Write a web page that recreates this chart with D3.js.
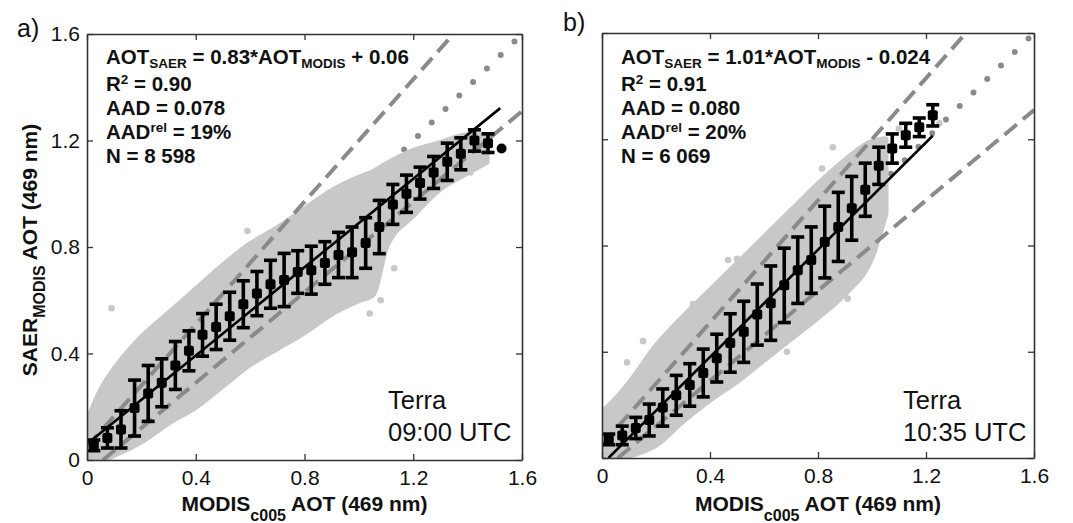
<!DOCTYPE html>
<html><head><meta charset="utf-8">
<script src="https://cdn.jsdelivr.net/npm/d3@7"></script>
<style>
body{margin:0;background:#fff}
text{font-family:"Liberation Sans",Arial,Helvetica,sans-serif}
</style>
</head><body>
<svg id="c" width="1073" height="523"></svg>
<script>
// ---------- data ----------
const tickValues = [0, 0.4, 0.8, 1.2, 1.6];
const tickLabels = ["0", "0.4", "0.8", "1.2", "1.6"];

// Panel a (Terra 09:00 UTC)
const binXA = [0.025,0.075,0.125,0.175,0.225,0.275,0.325,0.375,0.425,0.475,0.525,0.575,0.625,0.675,0.725,0.775,0.825,0.875,0.925,0.975,1.025,1.075,1.125,1.175,1.225,1.275,1.325,1.375,1.425,1.475,1.525];
const meanA = [0.055,0.083,0.115,0.195,0.25,0.29,0.355,0.41,0.47,0.50,0.54,0.585,0.625,0.66,0.676,0.706,0.713,0.74,0.77,0.78,0.815,0.875,0.96,1.0,1.04,1.08,1.12,1.15,1.2,1.19,1.17];
const sdA   = [0.02,0.038,0.07,0.105,0.105,0.09,0.09,0.075,0.08,0.085,0.09,0.088,0.083,0.09,0.1,0.08,0.09,0.08,0.085,0.095,0.095,0.1,0.075,0.07,0.06,0.06,0.07,0.06,0.04,0.035,0];
const cloudXA  = [0.0, 0.05, 0.1, 0.2, 0.3, 0.4, 0.5, 0.6, 0.7, 0.8, 0.9, 1.0, 1.05, 1.1, 1.2, 1.3, 1.4, 1.47];
const cloudHiA = [0.14,0.26,0.34,0.46,0.55,0.64,0.73,0.81,0.87,0.94,1.01,1.06,1.08,1.11,1.16,1.19,1.22,1.22];
const cloudLoA = [0.0, 0.0, 0.02,0.07,0.14,0.2, 0.28,0.36,0.42,0.48,0.55,0.6, 0.62,0.8, 0.92,1.02,1.08,1.12];
const outXA = [0.09,0.59,1.04,1.08,1.41,0.03,1.13];
const outYA = [0.57,0.86,0.55,0.60,1.08,0.19,0.72];
const fitA = [0.83, 0.06];          // slope, intercept
const fitRangeA = [0.0, 1.52];
const statsA = ["0.83*AOT", "+ 0.06", "0.90", "0.078", "19%", "8 598"];

// Panel b (Terra 10:35 UTC)
const binXB = [0.025,0.075,0.125,0.175,0.225,0.275,0.325,0.375,0.425,0.475,0.525,0.575,0.625,0.675,0.725,0.775,0.825,0.875,0.925,0.975,1.025,1.075,1.125,1.175,1.225];
const meanB = [0.07,0.085,0.113,0.143,0.19,0.236,0.275,0.32,0.376,0.433,0.475,0.54,0.583,0.65,0.707,0.745,0.813,0.87,0.94,1.01,1.1,1.165,1.215,1.245,1.29];
const sdB   = [0.02,0.035,0.04,0.06,0.07,0.075,0.08,0.09,0.09,0.11,0.115,0.115,0.14,0.14,0.125,0.125,0.135,0.13,0.12,0.1,0.07,0.055,0.045,0.035,0.04];
const cloudXB  = [0.0, 0.05, 0.1, 0.2, 0.3, 0.4, 0.5, 0.6, 0.7, 0.8, 0.9, 1.0, 1.05];
const cloudHiB = [0.17,0.22,0.28,0.42,0.53,0.63,0.73,0.83,0.93,1.03,1.12,1.19,1.2];
const cloudLoB = [0.02,0.0, 0.01,0.05,0.14,0.22,0.29,0.37,0.45,0.53,0.62,0.76,0.92];
const outXB = [0.093,0.152,0.337,0.40,0.467,0.50,0.685,0.91,0.937,0.855,0.815,1.10,1.25];
const outYB = [0.36,0.44,0.58,0.61,0.745,0.75,0.40,0.60,0.67,1.17,1.09,1.24,1.26];
const fitB = [1.01, -0.024];
const fitRangeB = [0.024, 1.225];
const statsB = ["1.01*AOT", "- 0.024", "0.91", "0.080", "20%", "6 069"];

const envelope = [[1.15, 0.05], [0.85, -0.05]]; // expected error lines

// ---------- drawing ----------
const svg = d3.select("#c");
const GREY_CLOUD = "#c8c8c8";
const GREY_LINE = "#8a8a8a";

function panel(opt) {
  const x = d3.scaleLinear().domain([0, 1.6]).range(opt.xr);
  const y = d3.scaleLinear().domain([0, 1.6]).range(opt.yr);
  const g = svg.append("g");
  const clipId = "clip" + opt.id;
  svg.append("clipPath").attr("id", clipId).append("rect")
    .attr("x", opt.xr[0]).attr("y", opt.yr[1])
    .attr("width", opt.xr[1] - opt.xr[0]).attr("height", opt.yr[0] - opt.yr[1]);
  const p = g.append("g").attr("clip-path", `url(#${clipId})`);

  // 1:1 dotted line (under the cloud)
  p.append("line")
    .attr("x1", x(0)).attr("y1", y(0)).attr("x2", x(1.6)).attr("y2", y(1.6))
    .attr("stroke", GREY_LINE).attr("stroke-width", 6)
    .attr("stroke-linecap", "round").attr("stroke-dasharray", "0,19.3");

  // scatter cloud envelope
  const cloud = opt.cloudX.map((v, i) => ({x: v, lo: opt.cloudLo[i], hi: opt.cloudHi[i]}));
  const area = d3.area().x(d => x(d.x)).y0(d => y(d.lo)).y1(d => y(d.hi)).curve(d3.curveMonotoneX);
  p.append("path").attr("d", area(cloud))
    .attr("fill", GREY_CLOUD).attr("stroke", GREY_CLOUD)
    .attr("stroke-width", 6).attr("stroke-linejoin", "round");
  p.selectAll("circle.out").data(opt.outX.map((v, i) => [v, opt.outY[i]])).join("circle")
    .attr("cx", d => x(d[0])).attr("cy", d => y(d[1])).attr("r", 3.3).attr("fill", GREY_CLOUD);

  // expected error envelope (dashed)
  envelope.forEach(([m, c]) => {
    const x0 = Math.max(0, -c / m);
    p.append("line")
      .attr("x1", x(x0)).attr("y1", y(m * x0 + c)).attr("x2", x(1.6)).attr("y2", y(m * 1.6 + c))
      .attr("stroke", GREY_LINE).attr("stroke-width", 4).attr("stroke-dasharray", "16,8");
  });

  // regression line
  p.append("line")
    .attr("x1", x(opt.fitRange[0])).attr("y1", y(opt.fit[0] * opt.fitRange[0] + opt.fit[1]))
    .attr("x2", x(opt.fitRange[1])).attr("y2", y(opt.fit[0] * opt.fitRange[1] + opt.fit[1]))
    .attr("stroke", "#000").attr("stroke-width", 2.6);

  // binned means with error bars
  const bins = opt.binX.map((v, i) => ({x: v, m: opt.mean[i], s: opt.sd[i]}));
  const eb = p.append("g");
  bins.forEach(d => {
    const cx = x(d.x);
    if (d.s > 0) {
      eb.append("line").attr("x1", cx).attr("x2", cx).attr("y1", y(d.m - d.s)).attr("y2", y(d.m + d.s))
        .attr("stroke", "#000").attr("stroke-width", 3.6);
      [d.m - d.s, d.m + d.s].forEach(v => {
        eb.append("line").attr("x1", cx - 6.5).attr("x2", cx + 6.5).attr("y1", y(v)).attr("y2", y(v))
          .attr("stroke", "#000").attr("stroke-width", 3.6);
      });
      eb.append("rect").attr("x", cx - 5).attr("y", y(d.m) - 5).attr("width", 10).attr("height", 10)
        .attr("rx", 2).attr("fill", "#000");
    } else {
      eb.append("circle").attr("cx", cx).attr("cy", y(d.m)).attr("r", 5).attr("fill", "#000");
    }
  });

  // axes: ticks inward on all four sides
  const axStyle = sel => {
    sel.selectAll("path.domain").attr("stroke", "#333").attr("stroke-width", 1.6);
    sel.selectAll(".tick line").attr("stroke", "#333").attr("stroke-width", 1.3);
    sel.selectAll(".tick text").attr("font-size", 21).attr("fill", "#111")
      .attr("font-family", '"Liberation Sans",Arial,sans-serif');
  };
  const fmt = v => tickLabels[tickValues.indexOf(v)];
  g.append("g").attr("transform", `translate(0,${opt.yr[0]})`)
    .call(d3.axisBottom(x).tickValues(tickValues).tickFormat(fmt).tickSizeInner(-6).tickSizeOuter(0).tickPadding(10))
    .call(axStyle);
  g.append("g").attr("transform", `translate(0,${opt.yr[1]})`)
    .call(d3.axisTop(x).tickValues(tickValues).tickFormat("").tickSizeInner(-6).tickSizeOuter(0))
    .call(axStyle);
  g.append("g").attr("transform", `translate(${opt.xr[0]},0)`)
    .call(d3.axisLeft(y).tickValues(tickValues).tickFormat(opt.yLabels ? fmt : "").tickSizeInner(-6).tickSizeOuter(0).tickPadding(7))
    .call(axStyle);
  g.append("g").attr("transform", `translate(${opt.xr[1]},0)`)
    .call(d3.axisRight(y).tickValues(tickValues).tickFormat("").tickSizeInner(-6).tickSizeOuter(0))
    .call(axStyle);
  g.selectAll(".domain").raise();

  // x-axis title
  const xt = g.append("text").attr("x", (opt.xr[0] + opt.xr[1]) / 2).attr("y", 511)
    .attr("text-anchor", "middle").attr("font-weight", "bold").attr("font-size", 21).attr("fill", "#111");
  xt.append("tspan").text("MODIS");
  xt.append("tspan").attr("font-size", 16).attr("dy", 10).text("c005");
  xt.append("tspan").attr("dy", -10).text(" AOT (469 nm)");

  // statistics box
  const s = opt.stats;
  const st = g.append("g").attr("font-weight", "bold").attr("font-size", 20.5).attr("fill", "#111");
  const tx = opt.xr[0] + 19;
  const sub = 13.5;
  const l1 = st.append("text").attr("x", tx).attr("y", 64);
  l1.append("tspan").text("AOT");
  l1.append("tspan").attr("font-size", sub).attr("dy", 4).text("SAER");
  l1.append("tspan").attr("dy", -4).text(" = " + s[0]);
  l1.append("tspan").attr("font-size", sub).attr("dy", 4).text("MODIS");
  l1.append("tspan").attr("dy", -4).text(" " + s[1]);
  const l2 = st.append("text").attr("x", tx).attr("y", 91);
  l2.append("tspan").text("R");
  l2.append("tspan").attr("font-size", sub).attr("dy", -7).text("2");
  l2.append("tspan").attr("dy", 7).text(" = " + s[2]);
  st.append("text").attr("x", tx).attr("y", 115).text("AAD = " + s[3]);
  const l4 = st.append("text").attr("x", tx).attr("y", 139);
  l4.append("tspan").text("AAD");
  l4.append("tspan").attr("font-size", sub).attr("dy", -7).text("rel");
  l4.append("tspan").attr("dy", 7).text(" = " + s[4]);
  st.append("text").attr("x", tx).attr("y", 163).text("N = " + s[5]);

  // satellite / time label
  const tl = g.append("g").attr("font-size", 25.5).attr("fill", "#111");
  tl.append("text").attr("x", opt.xr[0] + 301).attr("y", 409).text("Terra");
  tl.append("text").attr("x", opt.xr[0] + 301).attr("y", 441).text(opt.time);

  // panel letter
  svg.append("text").attr("x", opt.letterPos[0]).attr("y", opt.letterPos[1])
    .attr("font-size", 25).attr("fill", "#111").text(opt.letter);
}

panel({id: "a", xr: [87, 522], yr: [460, 34], binX: binXA, mean: meanA, sd: sdA,
  cloudX: cloudXA, cloudHi: cloudHiA, cloudLo: cloudLoA, outX: outXA, outY: outYA,
  fit: fitA, fitRange: fitRangeA, stats: statsA, time: "09:00 UTC", yLabels: true,
  letter: "a)", letterPos: [17, 37]});
panel({id: "b", xr: [602, 1034], yr: [458, 33], binX: binXB, mean: meanB, sd: sdB,
  cloudX: cloudXB, cloudHi: cloudHiB, cloudLo: cloudLoB, outX: outXB, outY: outYB,
  fit: fitB, fitRange: fitRangeB, stats: statsB, time: "10:35 UTC", yLabels: false,
  letter: "b)", letterPos: [563, 31]});

// y-axis title (panel a)
const yt = svg.append("text").attr("transform", "translate(37,250) rotate(-90)")
  .attr("text-anchor", "middle").attr("font-weight", "bold").attr("font-size", 21).attr("fill", "#111");
yt.append("tspan").text("SAER");
yt.append("tspan").attr("font-size", 16).attr("dy", 8).text("MODIS");
yt.append("tspan").attr("dy", -8).text("  AOT (469 nm)");
</script>
</body></html>
